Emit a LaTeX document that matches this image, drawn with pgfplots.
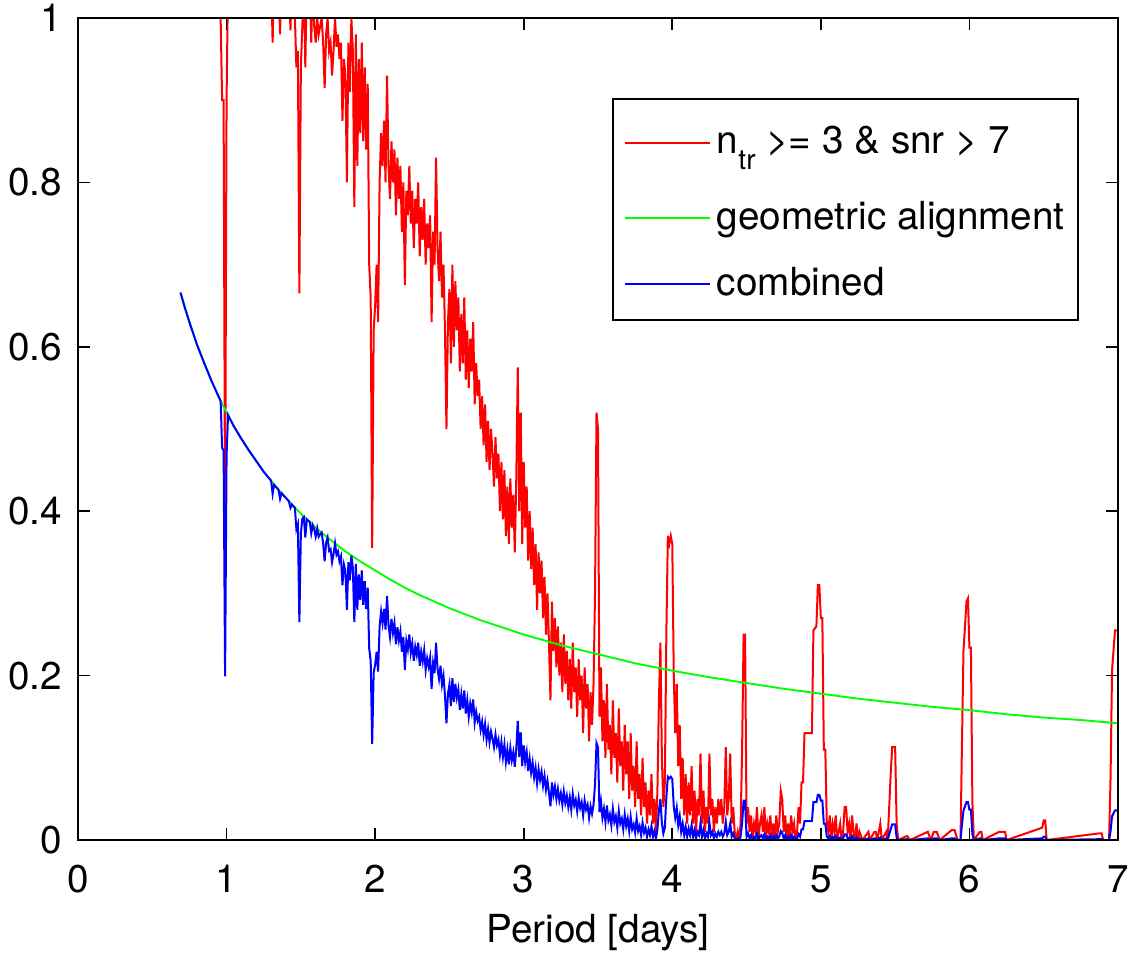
\documentclass[border=0pt]{standalone}
\usepackage{fontspec}
\setmainfont{TeX Gyre Heros}
\usepackage{pgfplots}
\pgfplotsset{compat=1.18}
\definecolor{mgreen}{RGB}{0,255,0}
\begin{document}
\fontsize{14.5}{17.4}\selectfont
\begin{tikzpicture}
\begin{axis}[name=ax, scale only axis, width=390pt, height=308.25pt,
  xmin=0, xmax=7, ymin=0, ymax=1,
  xtick={0,1,2,3,4,5,6,7}, ytick={0,0.2,0.4,0.6,0.8,1},
  tick align=inside, tick pos=both, major tick length=4.5pt,
  axis line style={line width=0.7pt, black},
  every tick/.style={black, line width=0.6pt},
  axis on top,
  /pgf/number format/assume math mode=true,
  xticklabel style={yshift=-4.5pt},
  yticklabel style={xshift=-1pt},
  xlabel={Period [days]},
  xlabel style={yshift=2pt},
  legend cell align=left,
  legend image code/.code={\draw[#1] (4.5pt,0pt) -- (36.5pt,0pt);},
  legend style={at={(rel axis cs:0.9625,0.9027)}, anchor=north east,
    draw=black, line width=0.7pt, fill=white, inner xsep=4pt, inner ysep=6pt,
    row sep=10pt, column sep=1.25pt, nodes={inner sep=1pt}},
]
\addplot[red, line width=0.75pt,
  legend image code/.code={\path[draw=none] (4.5pt,0pt) -- (4.5pt,10.5pt); \draw[red, line width=0.75pt] (4.5pt,0pt) -- (36.5pt,0pt);}] coordinates {
(0.955,1.05)(0.97,0.90)(0.98,0.90)(0.99,0.38)(1.00,0.90)(1.01,1.05)(1.30,1.05)(1.31,0.97)(1.32,1.05)(1.35,1.05)(1.36,0.98)(1.37,1.05)(1.42,1.05)(1.43,0.985)(1.44,1.05)(1.45,1.05)(1.46,1.0)(1.47,0.94)(1.48,0.96)(1.49,0.665)(1.50,0.94)(1.51,0.99)(1.52,1.05)(1.53,0.94)(1.54,1.05)(1.56,1.05)(1.57,0.97)(1.58,1.05)(1.59,0.99)(1.60,0.97)
(1.61,1.0)(1.62,0.98)(1.63,0.99)(1.64,1.0)(1.65,0.97)(1.66,0.915)(1.67,0.98)(1.68,1.0)(1.69,0.96)(1.70,0.97)(1.71,0.93)(1.72,0.96)(1.73,1.0)(1.74,0.965)(1.75,0.98)(1.76,0.95)(1.77,0.97)(1.78,0.875)(1.79,0.95)(1.80,0.93)
(1.81,0.80)(1.82,0.97)(1.83,0.91)(1.84,1.0)(1.85,0.96)(1.86,0.77)(1.87,0.98)(1.88,0.82)(1.89,0.95)(1.90,0.86)(1.91,0.97)(1.92,0.85)(1.93,0.94)(1.94,0.84)(1.95,0.92)(1.96,0.70)(1.97,0.66)(1.98,0.355)(1.99,0.62)(2.00,0.65)
(2.01,0.70)(2.02,0.63)(2.03,0.80)(2.04,0.86)(2.05,0.82)(2.06,0.875)(2.07,0.80)(2.08,0.93)(2.09,0.82)(2.10,0.78)(2.11,0.85)(2.12,0.80)(2.13,0.84)(2.14,0.76)(2.15,0.83)(2.16,0.78)(2.17,0.82)(2.18,0.74)(2.19,0.80)(2.20,0.675)
(2.21,0.79)(2.22,0.76)(2.23,0.82)(2.24,0.75)(2.25,0.79)(2.26,0.72)(2.27,0.78)(2.28,0.75)(2.29,0.80)(2.30,0.71)(2.31,0.77)(2.32,0.73)(2.33,0.78)(2.34,0.70)(2.35,0.75)(2.36,0.72)(2.37,0.76)(2.38,0.63)(2.39,0.74)(2.40,0.70)
(2.41,0.83)(2.42,0.72)(2.43,0.68)(2.44,0.74)(2.45,0.66)(2.46,0.70)(2.47,0.62)(2.48,0.50)(2.49,0.63)(2.50,0.67)(2.51,0.58)(2.52,0.70)(2.53,0.60)(2.54,0.68)(2.55,0.62)(2.56,0.66)(2.57,0.57)(2.58,0.64)(2.59,0.58)(2.60,0.66)
(2.61,0.56)(2.62,0.62)(2.63,0.55)(2.64,0.61)(2.65,0.57)(2.66,0.63)(2.67,0.53)(2.68,0.58)(2.69,0.54)(2.70,0.56)(2.71,0.50)(2.72,0.54)(2.73,0.48)(2.74,0.53)(2.75,0.46)(2.76,0.51)(2.77,0.45)(2.78,0.50)(2.79,0.47)(2.80,0.43)
(2.81,0.49)(2.82,0.44)(2.83,0.47)(2.84,0.40)(2.85,0.46)(2.86,0.39)(2.87,0.45)(2.88,0.37)(2.89,0.43)(2.90,0.36)(2.91,0.44)(2.92,0.38)(2.93,0.42)(2.94,0.35)(2.95,0.44)(2.96,0.575)(2.97,0.40)(2.98,0.52)(2.99,0.36)(3.00,0.46)
(3.01,0.38)(3.02,0.43)(3.03,0.34)(3.04,0.40)(3.05,0.33)(3.06,0.38)(3.07,0.31)(3.08,0.36)(3.09,0.28)(3.10,0.35)(3.11,0.30)(3.12,0.34)(3.13,0.27)(3.14,0.32)(3.15,0.25)(3.16,0.30)(3.17,0.24)(3.18,0.17)(3.19,0.29)(3.20,0.23)
(3.21,0.27)(3.22,0.21)(3.23,0.26)(3.24,0.20)(3.25,0.24)(3.26,0.18)(3.27,0.25)(3.28,0.19)(3.29,0.23)(3.30,0.17)(3.31,0.22)(3.32,0.16)(3.33,0.24)(3.34,0.18)(3.35,0.21)(3.36,0.15)(3.37,0.22)(3.38,0.17)(3.39,0.20)(3.40,0.13)
(3.41,0.21)(3.42,0.16)(3.43,0.19)(3.44,0.12)(3.45,0.18)(3.46,0.14)(3.47,0.19)(3.48,0.30)(3.49,0.52)(3.50,0.50)(3.51,0.15)(3.52,0.21)(3.53,0.12)(3.54,0.17)(3.55,0.10)(3.56,0.19)(3.57,0.11)(3.58,0.14)(3.59,0.08)(3.60,0.17)
(3.61,0.10)(3.62,0.13)(3.63,0.07)(3.64,0.16)(3.65,0.09)(3.66,0.12)(3.67,0.06)(3.68,0.14)(3.69,0.08)(3.70,0.12)(3.71,0.05)(3.72,0.13)(3.73,0.06)(3.74,0.09)(3.75,0.04)(3.76,0.12)(3.77,0.05)(3.78,0.08)(3.79,0.03)(3.80,0.10)
(3.81,0.04)(3.82,0.07)(3.83,0.02)(3.84,0.06)(3.85,0.03)(3.86,0.08)(3.87,0.02)(3.88,0.05)(3.89,0.01)(3.90,0.06)(3.91,0.17)(3.92,0.24)(3.93,0.10)(3.94,0.04)(3.95,0.07)(3.96,0.25)(3.97,0.37)(3.98,0.36)(3.99,0.37)(4.00,0.36)
(4.01,0.20)(4.02,0.13)(4.03,0.19)(4.04,0.09)(4.05,0.14)(4.06,0.05)(4.07,0.10)(4.08,0.03)(4.09,0.08)(4.10,0.02)
(4.11,0.07)(4.12,0.03)(4.13,0.09)(4.14,0.02)(4.15,0.06)(4.16,0.01)(4.17,0.05)(4.18,0.03)(4.19,0.105)(4.20,0.02)(4.21,0.06)(4.22,0.01)(4.23,0.04)(4.24,0.02)(4.25,0.105)(4.26,0.03)(4.27,0.05)(4.28,0.01)(4.29,0.04)(4.30,0.02)
(4.31,0.05)(4.32,0.03)(4.33,0.05)(4.34,0.02)(4.35,0.04)(4.36,0.113)(4.37,0.03)(4.38,0.05)(4.39,0.105)(4.40,0.02)(4.41,0.04)(4.42,0.01)(4.43,0)(4.44,0.01)(4.45,0)(4.46,0.02)(4.47,0.11)(4.48,0.25)(4.49,0.25)(4.50,0.02)
(4.51,0.04)(4.52,0.01)(4.53,0.03)(4.54,0)(4.55,0.02)(4.56,0.01)(4.57,0.04)(4.58,0)(4.59,0.02)(4.60,0.03)(4.61,0.01)(4.62,0.04)(4.63,0)(4.64,0.02)(4.65,0.01)(4.66,0.03)(4.67,0)(4.68,0.02)(4.69,0)(4.70,0.03)
(4.71,0.01)(4.72,0.02)(4.73,0.06)(4.74,0.05)(4.75,0.01)(4.76,0.03)(4.77,0)(4.78,0.02)(4.79,0)(4.80,0.03)(4.81,0.01)(4.82,0.02)(4.83,0)(4.84,0.01)(4.85,0.04)(4.86,0.02)(4.87,0.07)(4.88,0.07)(4.89,0.13)(4.90,0.13)
(4.92,0.13)(4.94,0.13)(4.95,0.255)(4.97,0.26)(4.98,0.31)(4.99,0.31)(5.00,0.27)(5.01,0.27)(5.02,0.11)(5.03,0.11)(5.04,0.02)(5.05,0.01)(5.06,0.03)(5.07,0)(5.08,0.02)(5.09,0.01)(5.10,0.03)(5.11,0)(5.12,0.01)(5.13,0.02)
(5.14,0)(5.15,0.01)(5.16,0.04)(5.17,0.04)(5.18,0.01)(5.19,0.02)(5.20,0)(5.21,0.03)(5.22,0.01)(5.23,0)(5.24,0.02)(5.25,0)(5.26,0.01)(5.28,0)(5.32,0.01)(5.33,0)(5.36,0.01)(5.37,0.01)(5.38,0)(5.40,0.02)
(5.41,0)(5.44,0.01)(5.45,0)(5.46,0.04)(5.47,0.08)(5.48,0.113)(5.50,0.113)(5.51,0.02)(5.52,0)(5.58,0.005)(5.60,0)(5.72,0.01)(5.74,0)
(5.76,0.01)(5.78,0.01)(5.80,0)(5.88,0.012)(5.90,0.012)(5.92,0)(5.94,0)(5.95,0.12)(5.96,0.23)(5.98,0.29)(5.99,0.294)(6.00,0.234)(6.01,0.234)(6.02,0.046)(6.03,0)(6.07,0.01)(6.08,0.01)(6.09,0)(6.20,0.01)(6.24,0.01)
(6.25,0)(6.49,0.015)(6.50,0.024)(6.51,0.024)(6.52,0)(6.87,0.008)(6.89,0.008)(6.90,0)(6.94,0)(6.95,0.077)(6.96,0.207)(6.98,0.255)(7.00,0.255)
};
\addlegendentry{n\raisebox{-6pt}{\fontsize{10.5}{10.5}\selectfont tr} >= 3 \& snr > 7}
\addplot[mgreen, line width=0.7pt,
  legend image code/.code={\path[draw=none] (4.5pt,0pt) -- (4.5pt,11pt); \draw[mgreen, line width=0.7pt] (4.5pt,0pt) -- (36.5pt,0pt);}] coordinates {
(0.69,0.666)(0.75,0.630)(0.80,0.603)(0.85,0.580)(0.90,0.558)(0.95,0.538)(1.00,0.520)(1.05,0.503)(1.10,0.488)(1.15,0.474)(1.20,0.461)(1.25,0.448)(1.30,0.437)(1.35,0.426)(1.40,0.416)(1.50,0.397)(1.60,0.380)(1.70,0.365)(1.80,0.351)(1.90,0.339)
(2.00,0.328)(2.10,0.317)(2.20,0.307)(2.30,0.298)(2.40,0.290)(2.50,0.282)(2.60,0.275)(2.70,0.268)(2.80,0.262)(2.90,0.256)(3.00,0.250)(3.25,0.237)(3.50,0.226)(3.75,0.215)(4.00,0.206)(4.25,0.198)(4.50,0.191)(4.75,0.184)(5.00,0.178)(5.25,0.172)
(5.50,0.167)(5.75,0.162)(6.00,0.158)(6.25,0.153)(6.50,0.149)(6.75,0.146)(7.00,0.142)
};
\addlegendentry{geometric alignment}
\addplot[blue, line width=0.75pt] coordinates {
(0.69,0.666)(0.72,0.647)(0.75,0.630)(0.80,0.603)(0.85,0.580)(0.90,0.558)(0.95,0.538)(0.96,0.534)(0.97,0.477)(0.98,0.474)(0.99,0.199)(1.00,0.468)(1.01,0.517)(1.05,0.503)(1.10,0.488)(1.15,0.474)(1.20,0.461)(1.25,0.448)(1.30,0.437)(1.31,0.421)
(1.32,0.432)(1.35,0.426)(1.36,0.415)(1.37,0.422)(1.40,0.416)(1.42,0.412)(1.43,0.404)(1.44,0.408)(1.45,0.406)(1.46,0.404)(1.47,0.378)(1.48,0.384)(1.49,0.265)(1.50,0.373)(1.51,0.391)(1.52,0.393)(1.53,0.368)(1.54,0.390)(1.56,0.387)(1.57,0.373)
(1.58,0.383)(1.59,0.378)(1.60,0.369)(1.61,0.379)(1.62,0.369)(1.63,0.372)(1.64,0.374)(1.65,0.361)(1.66,0.339)(1.67,0.362)(1.68,0.368)(1.69,0.352)(1.70,0.354)(1.71,0.338)(1.72,0.348)(1.73,0.361)(1.74,0.347)(1.75,0.351)(1.76,0.339)(1.77,0.345)
(1.78,0.310)(1.79,0.335)(1.80,0.327)(1.81,0.280)(1.82,0.338)(1.83,0.316)(1.84,0.346)(1.85,0.331)(1.86,0.265)(1.87,0.336)(1.88,0.280)(1.89,0.323)(1.90,0.292)(1.91,0.328)(1.92,0.286)(1.93,0.315)(1.94,0.281)(1.95,0.307)(1.96,0.233)(1.97,0.218)
(1.98,0.117)(1.99,0.204)(2.00,0.213)(2.01,0.229)(2.02,0.205)(2.03,0.260)(2.04,0.278)(2.05,0.264)(2.06,0.281)(2.07,0.256)(2.08,0.297)(2.09,0.261)(2.10,0.247)(2.11,0.269)(2.12,0.252)(2.13,0.264)(2.14,0.238)(2.15,0.259)(2.16,0.243)(2.17,0.254)
(2.18,0.229)(2.19,0.247)(2.20,0.207)(2.21,0.242)(2.22,0.232)(2.23,0.250)(2.24,0.228)(2.25,0.239)(2.26,0.218)(2.27,0.235)(2.28,0.225)(2.29,0.240)(2.30,0.212)(2.31,0.229)(2.32,0.217)(2.33,0.231)(2.34,0.207)(2.35,0.221)(2.36,0.211)(2.37,0.222)
(2.38,0.184)(2.39,0.215)(2.40,0.203)(2.41,0.240)(2.42,0.208)(2.43,0.196)(2.44,0.212)(2.45,0.189)(2.46,0.200)(2.47,0.176)(2.48,0.142)(2.49,0.178)(2.50,0.189)(2.51,0.163)(2.52,0.197)(2.53,0.168)(2.54,0.190)(2.55,0.173)(2.56,0.183)(2.57,0.158)
(2.58,0.177)(2.59,0.160)(2.60,0.182)(2.61,0.154)(2.62,0.170)(2.63,0.150)(2.64,0.166)(2.65,0.155)(2.66,0.171)(2.67,0.143)(2.68,0.156)(2.69,0.145)(2.70,0.150)(2.71,0.134)(2.72,0.144)(2.73,0.128)(2.74,0.141)(2.75,0.122)(2.76,0.135)(2.77,0.119)
(2.78,0.132)(2.79,0.123)(2.80,0.113)(2.81,0.128)(2.82,0.115)(2.83,0.122)(2.84,0.104)(2.85,0.119)(2.86,0.101)(2.87,0.116)(2.88,0.095)(2.89,0.110)(2.90,0.092)(2.91,0.112)(2.92,0.097)(2.93,0.107)(2.94,0.089)(2.95,0.111)(2.96,0.145)(2.97,0.101)
(2.98,0.131)(2.99,0.090)(3.00,0.115)(3.01,0.095)(3.02,0.107)(3.03,0.084)(3.04,0.099)(3.05,0.082)(3.06,0.094)(3.07,0.076)(3.08,0.088)(3.09,0.069)(3.10,0.086)(3.11,0.073)(3.12,0.083)(3.13,0.066)(3.14,0.078)(3.15,0.061)(3.16,0.072)(3.17,0.058)
(3.18,0.041)(3.19,0.070)(3.20,0.055)(3.21,0.065)(3.22,0.050)(3.23,0.062)(3.24,0.048)(3.25,0.057)(3.26,0.043)(3.27,0.059)(3.28,0.045)(3.29,0.054)(3.30,0.040)(3.31,0.052)(3.32,0.037)(3.33,0.056)(3.34,0.042)(3.35,0.049)(3.36,0.035)(3.37,0.051)
(3.38,0.039)(3.39,0.046)(3.40,0.030)(3.41,0.048)(3.42,0.037)(3.43,0.043)(3.44,0.027)(3.45,0.041)(3.46,0.032)(3.47,0.043)(3.48,0.068)(3.49,0.118)(3.50,0.113)(3.51,0.034)(3.52,0.047)(3.53,0.027)(3.54,0.038)(3.55,0.022)(3.56,0.042)(3.57,0.024)
(3.58,0.031)(3.59,0.018)(3.60,0.038)(3.61,0.022)(3.62,0.029)(3.63,0.015)(3.64,0.035)(3.65,0.020)(3.66,0.026)(3.67,0.013)(3.68,0.031)(3.69,0.017)(3.70,0.026)(3.71,0.011)(3.72,0.028)(3.73,0.013)(3.74,0.019)(3.75,0.009)(3.76,0.026)(3.77,0.011)
(3.78,0.017)(3.79,0.006)(3.80,0.021)(3.81,0.009)(3.82,0.015)(3.83,0.004)(3.84,0.013)(3.85,0.006)(3.86,0.017)(3.87,0.004)(3.88,0.011)(3.89,0.002)(3.90,0.013)(3.91,0.036)(3.92,0.050)(3.93,0.021)(3.94,0.008)(3.95,0.015)(3.96,0.052)(3.97,0.077)
(3.98,0.075)(3.99,0.077)(4.00,0.074)(4.01,0.041)(4.02,0.027)(4.03,0.039)(4.04,0.018)(4.05,0.029)(4.06,0.010)(4.07,0.020)(4.08,0.006)(4.09,0.016)(4.10,0.004)
(4.11,0.014)(4.12,0.006)(4.13,0.018)(4.14,0.004)(4.15,0.012)(4.16,0.002)(4.17,0.010)(4.18,0.006)(4.19,0.021)(4.20,0.004)(4.21,0.012)(4.22,0.002)(4.23,0.008)(4.24,0.004)(4.25,0.021)(4.26,0.006)(4.27,0.010)(4.28,0.002)(4.29,0.008)(4.30,0.004)
(4.31,0.010)(4.32,0.006)(4.33,0.010)(4.34,0.004)(4.35,0.008)(4.36,0.022)(4.37,0.006)(4.38,0.010)(4.39,0.020)(4.40,0.004)(4.41,0.008)(4.42,0.002)(4.43,0)(4.44,0.002)(4.45,0)(4.46,0.004)(4.47,0.021)(4.48,0.048)(4.49,0.048)(4.50,0.004)
(4.51,0.008)(4.52,0.002)(4.53,0.006)(4.54,0)(4.55,0.004)(4.56,0.002)(4.57,0.008)(4.58,0)(4.59,0.004)(4.60,0.006)(4.61,0.002)(4.62,0.007)(4.63,0)(4.64,0.004)(4.65,0.002)(4.66,0.006)(4.67,0)(4.68,0.004)(4.69,0)(4.70,0.006)
(4.71,0.002)(4.72,0.004)(4.73,0.011)(4.74,0.009)(4.75,0.002)(4.76,0.006)(4.77,0)(4.78,0.004)(4.79,0)(4.80,0.006)(4.81,0.002)(4.82,0.004)(4.83,0)(4.84,0.002)(4.85,0.007)(4.86,0.004)(4.87,0.013)(4.88,0.013)(4.89,0.023)(4.90,0.023)
(4.92,0.023)(4.94,0.023)(4.95,0.046)(4.97,0.046)(4.98,0.055)(4.99,0.055)(5.00,0.048)(5.01,0.048)(5.02,0.020)(5.03,0.020)(5.04,0.004)(5.05,0.002)(5.06,0.005)(5.07,0)(5.08,0.004)(5.09,0.002)(5.10,0.005)(5.11,0)(5.12,0.002)(5.13,0.003)
(5.14,0)(5.15,0.002)(5.16,0.007)(5.17,0.007)(5.18,0.002)(5.19,0.003)(5.20,0)(5.21,0.005)(5.22,0.002)(5.23,0)(5.24,0.003)(5.25,0)(5.26,0.002)(5.28,0)(5.32,0.002)(5.33,0)(5.36,0.002)(5.37,0.002)(5.38,0)(5.40,0.003)
(5.41,0)(5.44,0.002)(5.45,0)(5.46,0.007)(5.47,0.013)(5.48,0.019)(5.50,0.019)(5.51,0.003)(5.52,0)(5.58,0.001)(5.60,0)(5.72,0.002)(5.74,0)
(5.76,0.002)(5.78,0.002)(5.80,0)(5.88,0.002)(5.90,0.002)(5.92,0)(5.94,0)(5.95,0.019)(5.96,0.036)(5.98,0.046)(5.99,0.046)(6.00,0.037)(6.01,0.037)(6.02,0.007)(6.03,0)(6.07,0.002)(6.08,0.002)(6.09,0)(6.20,0.002)(6.24,0.002)
(6.25,0)(6.49,0.002)(6.50,0.004)(6.51,0.004)(6.52,0)(6.87,0.001)(6.89,0.001)(6.90,0)(6.94,0)(6.95,0.011)(6.96,0.029)(6.98,0.036)(7.00,0.036)
};
\addlegendentry{combined}
\end{axis}
\pgfresetboundingbox
\path ([shift={(-29.25pt,-42pt)}]ax.south west) rectangle ([shift={(4.5pt,6.75pt)}]ax.north east);
\end{tikzpicture}
\end{document}
